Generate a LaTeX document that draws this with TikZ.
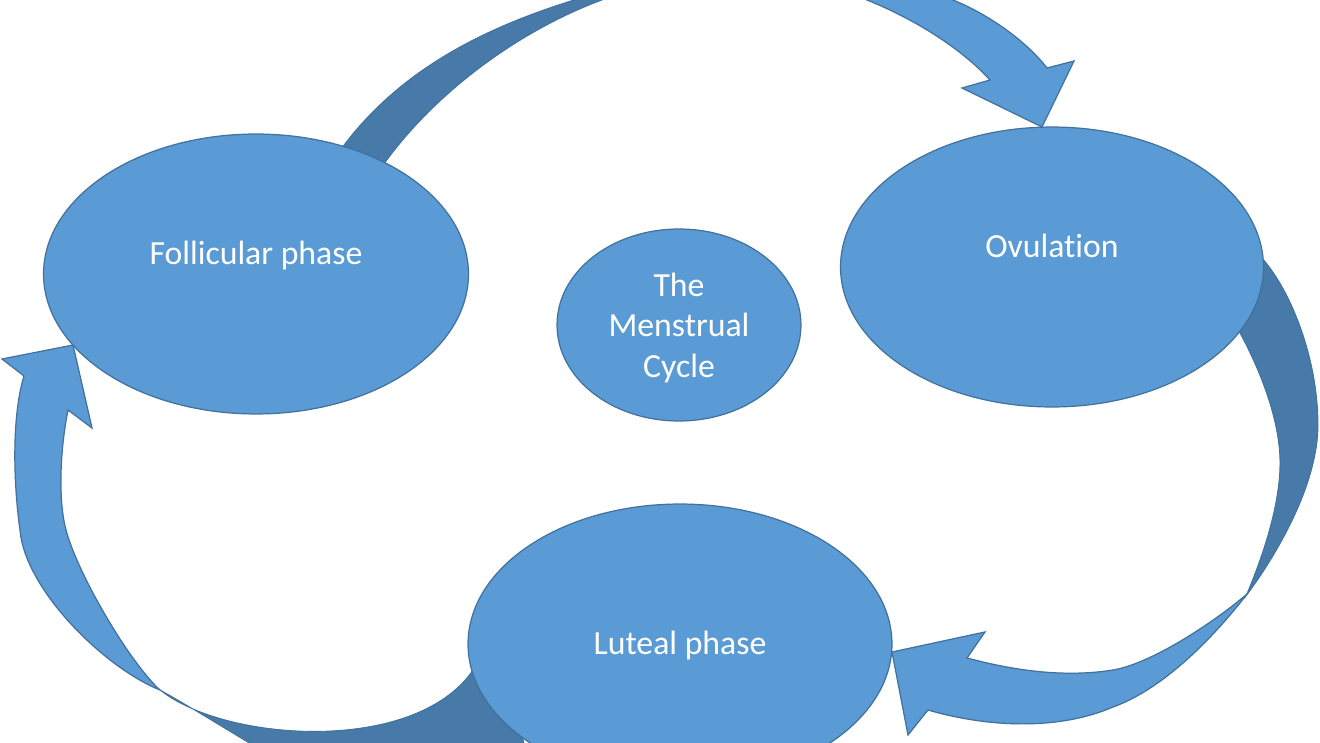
\documentclass[tikz,border=0pt]{standalone}
\usepackage{fontspec}
\setmainfont{Carlito}[Ligatures={NoCommon,NoContextual}]
\usetikzlibrary{shapes.geometric}
\definecolor{fillblue}{HTML}{5B9BD5}
\definecolor{lineblue}{HTML}{41719C}
\definecolor{backblue}{RGB}{71,122,168}
\begin{document}
\begin{tikzpicture}[x=0.02cm,y=-0.02cm,
  phase/.style={ellipse,draw=lineblue,line width=0.7pt,fill=fillblue,inner sep=0pt},
  lbl/.style={text=white,font=\fontsize{19.2}{23.2}\selectfont,align=center,inner sep=0pt},
  front/.style={fill=fillblue,draw=lineblue,line width=0.7pt,line join=miter},
  back/.style={fill=backblue,draw=lineblue,line width=0.5pt}]
\useasboundingbox (0,0) rectangle (1320,743);
\clip (0,0) rectangle (1320,743);
\fill[white] (0,0) rectangle (1320,743);

% arrow 1: follicular -> ovulation
\path[back] (330,165) .. controls (395,65) and (500,18) .. (620,-13)
  -- (640,-12) .. controls (535,15) and (425,95) .. (370,185) -- cycle;
\path[front] (800,-28) -- (867,0) .. controls (912,18) and (960,47) .. (990,80)
  -- (962,88) -- (1042,127) -- (1074,61) -- (1047,68)
  .. controls (1027,42) and (990,15) .. (953,0) -- (890,-28) -- cycle;

% arrow 2: ovulation -> luteal
\path[back] (1240,228) -- (1262,258) .. controls (1292,292) and (1318,360) .. (1318,425)
  .. controls (1318,485) and (1276,556) .. (1246,596)
  .. controls (1263,556) and (1280,505) .. (1280,463)
  .. controls (1280,420) and (1260,370) .. (1240,333) -- (1215,290) -- cycle;
\path[front] (1247,594) .. controls (1207,646) and (1158,691) .. (1113,707)
  .. controls (1060,730) and (990,728) .. (928,710)
  -- (908,735) -- (892,652) -- (985,632) -- (967,658)
  .. controls (1012,670) and (1063,678) .. (1113,670)
  .. controls (1150,664) and (1212,624) .. (1247,594) -- cycle;

% arrow 3: luteal -> follicular
\path[back] (160,690) .. controls (225,742) and (415,755) .. (473,670) -- (495,640)
  -- (540,800) -- (330,790) .. controls (250,745) and (200,712) .. (160,690) -- cycle;
\path[front] (160,690) .. controls (105,668) and (25,590) .. (20,530)
  .. controls (13,480) and (12,415) .. (24,376)
  -- (2,359) -- (73,345) -- (92,428) -- (68,410)
  .. controls (60,450) and (58,500) .. (66,530)
  .. controls (78,575) and (130,663) .. (160,690) -- cycle;

% phases
\node[phase, minimum width=8.5cm, minimum height=5.6cm] (fol) at (256,274) {};
\node[phase, minimum width=8.46cm, minimum height=5.6cm] (ovu) at (1052,267) {};
\node[phase, minimum width=4.88cm, minimum height=3.84cm] (cen) at (679,325) {};
\node[phase, minimum width=8.48cm, minimum height=5.6cm] (lut) at (680,644) {};

\node[lbl, anchor=base] (folt) at (256,265) {Follicular phase};
\node[lbl, anchor=base] (ovut) at (1052,258) {Ovulation};
\node[lbl, anchor=base] (lutt) at (680,654) {Luteal phase};
\node[lbl] (cent) at (679,328) {The\\Menstrual\\Cycle};
\end{tikzpicture}
\end{document}
